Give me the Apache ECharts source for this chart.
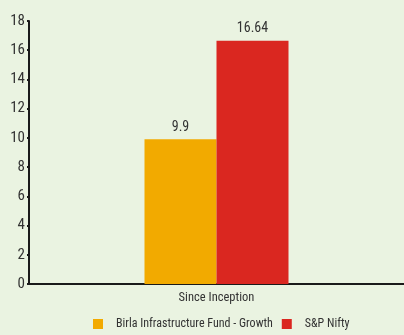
<!DOCTYPE html>
<html><head><meta charset="utf-8">
<script src="https://cdn.jsdelivr.net/npm/echarts@6/dist/echarts.min.js"></script>
<style>html,body{margin:0;padding:0;background:#EAF3E1;}#c{width:404px;height:335px;}</style>
</head><body><div id="c"></div>
<script>
var categories = ["Since Inception"];
var seriesNames = ["Birla Infrastructure Fund - Growth", "S&P Nifty"];
var fundValues = [9.9];
var niftyValues = [16.64];
var yTicks = [0, 2, 4, 6, 8, 10, 12, 14, 16, 18];

var font = "'Roboto Condensed', 'Open Sans', sans-serif";
var chart = echarts.init(document.getElementById('c'));
chart.setOption({
  backgroundColor: '#EAF3E1',
  animation: false,
  textStyle: {fontFamily: font},
  grid: {left: 29, right: -4, top: 21, bottom: 51},
  legend: {
    left: 93, top: 318, padding: 0, itemWidth: 10, itemHeight: 10, itemGap: 9,
    icon: 'rect',
    textStyle: {fontFamily: font, fontSize: 12, color: '#333', padding: [0,0,0,8]},
    data: seriesNames
  },
  xAxis: {
    type: 'category', data: categories,
    axisLine: {lineStyle: {color: '#1a1a1a', width: 2}},
    axisTick: {show: false},
    axisLabel: {fontFamily: font, fontSize: 12.5, color: '#333', margin: 7}
  },
  yAxis: {
    type: 'value', min: 0, max: 18, interval: 2,
    axisLine: {show: true, lineStyle: {color: '#1a1a1a', width: 2}},
    axisTick: {show: true, length: 2, lineStyle: {color: '#1a1a1a', width: 2}},
    splitLine: {show: false},
    axisLabel: {fontFamily: font, fontSize: 15, color: '#333', margin: 4,
      formatter: function (v) { return yTicks.indexOf(v) >= 0 ? String(v) : ''; }}
  },
  series: [
    {name: seriesNames[0], type: 'bar', data: fundValues, barWidth: 72, barGap: '0%',
     itemStyle: {color: '#F2AA00'},
     label: {show: true, position: 'top', fontFamily: font, fontSize: 14, color: '#333', distance: 5}},
    {name: seriesNames[1], type: 'bar', data: niftyValues, barWidth: 72, barGap: '0%',
     itemStyle: {color: '#DA2720'},
     label: {show: true, position: 'top', fontFamily: font, fontSize: 14, color: '#333', distance: 5}}
  ]
});
</script></body></html>
